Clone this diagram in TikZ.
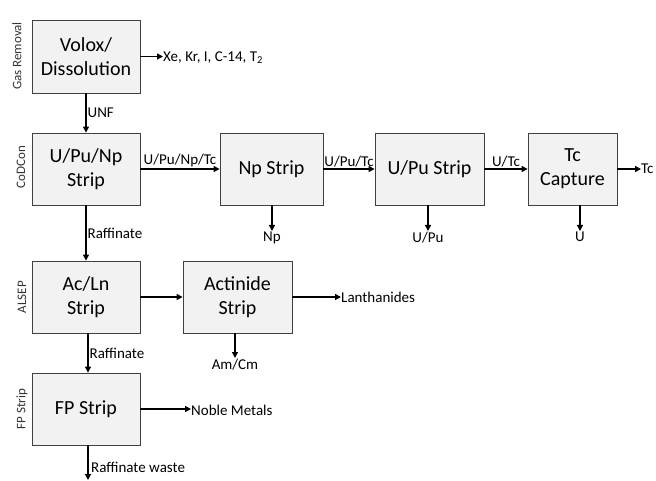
\documentclass[tikz,border=0pt]{standalone}
\usepackage{fontspec}
\setmainfont{Carlito}
\usetikzlibrary{arrows.meta}
\begin{document}
\begin{tikzpicture}[x=1pt,y=-1pt,
  proc/.style={draw=black!75,fill=black!5,line width=0.8pt,inner sep=0pt,align=center,font=\fontsize{20}{24}\selectfont},
  flow/.style={line width=1.3pt,-{Triangle[length=6pt,width=6pt]}},
  lbl/.style={inner sep=1pt,font=\fontsize{15}{18}\selectfont},
  side/.style={inner sep=0pt,rotate=90,font=\fontsize{13}{16}\selectfont,text=black!80}]
\useasboundingbox (0,0) rectangle (656,481);
% boxes
\node[proc,minimum width=108pt,minimum height=73pt] (volox) at (86,56.5) {Volox/\\Dissolution};
\node[proc,minimum width=108pt,minimum height=72pt] (upunp) at (86,169) {U/Pu/Np\\Strip};
\node[proc,minimum width=103pt,minimum height=72pt] (np) at (271.5,169) {Np Strip};
\node[proc,minimum width=109pt,minimum height=72pt] (upu) at (429.5,169) {U/Pu Strip};
\node[proc,minimum width=89pt,minimum height=72pt] (tc) at (572.5,169) {Tc\\Capture};
\node[proc,minimum width=108pt,minimum height=72pt] (acln) at (86,297) {Ac/Ln\\Strip};
\node[proc,minimum width=109pt,minimum height=72pt] (act) at (237.5,297) {Actinide\\Strip};
\node[proc,minimum width=108pt,minimum height=72pt] (fp) at (86,409) {FP Strip};
% side labels
\node[side] (s1) at (17,56) {Gas Removal};
\node[side] (s2) at (21,167) {CoDCon};
\node[side] (s3) at (22,297) {ALSEP};
\node[side] (s4) at (22,409) {FP Strip};
% output coordinates and labels
\node[lbl,anchor=west,inner sep=0pt] (gas) at (163,58) {Xe, Kr, I, C-14, T\textsubscript{2}};
\node[lbl,anchor=north] (npo) at (272,231) {Np};
\node[lbl,anchor=north] (upuo) at (428,231) {U/Pu};
\node[lbl,anchor=north] (uo) at (580,231) {U};
\node[lbl,anchor=west,inner sep=0pt] (tco) at (641,169) {Tc};
\node[lbl,anchor=west,inner sep=0pt] (lan) at (341,297) {Lanthanides};
\node[lbl,anchor=north] (amcm) at (235,358) {Am/Cm};
\node[lbl,anchor=west,inner sep=0pt] (noble) at (191,410) {Noble Metals};
\coordinate (waste) at (88,480);
\node[lbl,anchor=west] (wastel) at (90,467) {Raffinate waste};
% flows
\draw[flow] (volox.east) -- (volox.east -| gas.west);
\draw[flow] (volox.south) -- node[lbl,right,pos=0.5]{UNF} (upunp.north);
\draw[flow] (upunp.east) -- node[lbl,above,pos=0.5]{U/Pu/Np/Tc} (np.west);
\draw[flow] (np.east) -- node[lbl,above,pos=0.5]{U/Pu/Tc} (upu.west);
\draw[flow] (upu.east) -- node[lbl,above,pos=0.5]{U/Tc} (tc.west);
\draw[flow] (tc.east) -- (tc.east -| tco.west);
\draw[flow] (np.south -| npo) -- (npo.north);
\draw[flow] (upu.south -| upuo) -- (upuo.north);
\draw[flow] (tc.south -| uo) -- (uo.north);
\draw[flow] (upunp.south) -- node[lbl,right,pos=0.5]{Raffinate} (acln.north);
\draw[flow] (acln.east) -- (act.west);
\draw[flow] (act.east) -- (act.east -| lan.west);
\draw[flow] (act.south -| amcm) -- (amcm.north);
\draw[flow] ([xshift=2pt]acln.south) -- node[lbl,right,pos=0.5]{Raffinate} ([xshift=2pt]fp.north);
\draw[flow] (fp.east) -- (fp.east -| noble.west);
\draw[flow] (fp.south -| waste) -- (waste);
\end{tikzpicture}
\end{document}
